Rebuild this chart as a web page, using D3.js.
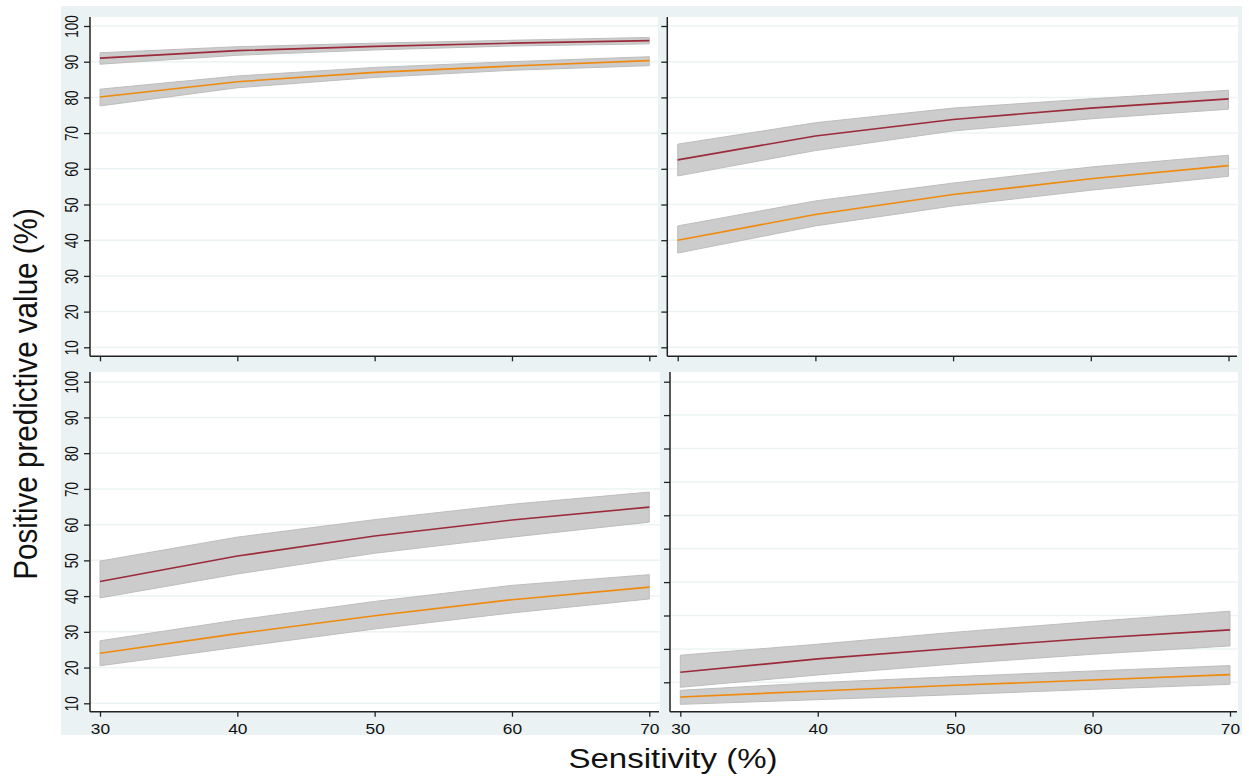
<!DOCTYPE html>
<html>
<head>
<meta charset="utf-8">
<script src="https://cdn.jsdelivr.net/npm/d3@7"></script>
<style>
  body { margin: 0; background: #fff; }
  text { font-family: Arial, "Liberation Sans", sans-serif; fill: #111; }
</style>
</head>
<body>
<svg id="chart" width="1249" height="778"></svg>
<script>
// sensitivity values on the x axis
var sensitivity = [30, 40, 50, 60, 70];
var xTicks = [30, 40, 50, 60, 70];
var yTicks = [10, 20, 30, 40, 50, 60, 70, 80, 90, 100];

// panel A (top left)
var redA   = [91.0, 93.1, 94.3, 95.2, 95.9];
var redALo = [89.3, 91.8, 93.3, 94.4, 95.0];
var redAHi = [92.5, 94.2, 95.2, 96.0, 96.8];
var orA    = [80.1, 84.4, 87.0, 88.8, 90.3];
var orALo  = [77.6, 82.7, 85.6, 87.6, 88.9];
var orAHi  = [82.3, 86.0, 88.4, 90.0, 91.4];

// panel B (top right)
var redB   = [62.5, 69.2, 73.8, 77.0, 79.6];
var redBLo = [58.0, 65.1, 70.6, 74.0, 76.7];
var redBHi = [66.9, 72.9, 77.0, 79.6, 82.0];
var orB    = [40.0, 47.2, 52.8, 57.2, 60.9];
var orBLo  = [36.4, 44.0, 49.6, 54.0, 57.9];
var orBHi  = [44.0, 51.0, 56.0, 60.5, 63.8];

// panel C (bottom left)
var redC   = [44.1, 51.2, 56.8, 61.3, 64.9];
var redCLo = [39.5, 46.2, 52.0, 56.5, 60.7];
var redCHi = [49.8, 56.5, 61.4, 65.7, 69.1];
var orC    = [24.0, 29.5, 34.5, 39.0, 42.5];
var orCLo  = [20.5, 25.7, 30.8, 35.3, 39.2];
var orCHi  = [27.5, 33.3, 38.5, 43.0, 46.0];

// panel D (bottom right)
var redD   = [13.0, 17.0, 20.2, 23.2, 25.7];
var redDLo = [8.5, 12.2, 15.5, 18.4, 20.9];
var redDHi = [18.1, 21.4, 25.0, 28.2, 31.3];
var orD    = [5.6, 7.4, 9.1, 10.7, 12.3];
var orDLo  = [3.4, 4.8, 6.3, 7.9, 9.4];
var orDHi  = [7.6, 9.9, 11.7, 13.4, 15.0];

// colours
var redColor = "#9b2a3a", orangeColor = "#f08a0c", bandFill = "#cccccc", bandStroke = "#bdbdbd";
var bgColor = "#eaf2f3", gridColor = "#edf3f4", axisColor = "#222";

// layout of the four panels (plot box, x range, y range)
var panels = [
  { box: [90, 17, 658, 356.3],   xr: [100, 649.3],   yr: [347.3, 26],    yLabels: true,  xLabels: false,
    red: [redA, redALo, redAHi], or: [orA, orALo, orAHi] },
  { box: [667.3, 17, 1238, 356.3], xr: [677.7, 1228.5], yr: [347.3, 26],  yLabels: false, xLabels: false,
    red: [redB, redBLo, redBHi], or: [orB, orBLo, orBHi] },
  { box: [90, 372, 660, 711.7],  xr: [100, 649.3],   yr: [703.3, 381.7], yLabels: true,  xLabels: true,
    red: [redC, redCLo, redCHi], or: [orC, orCLo, orCHi] },
  { box: [670, 372, 1238, 711.7], xr: [680.3, 1230],  yr: [682.3, 381.7], yLabels: false, xLabels: true,
    red: [redD, redDLo, redDHi], or: [orD, orDLo, orDHi] }
];

var svg = d3.select("#chart");

// outer graph region
svg.append("rect").attr("x", 61).attr("y", 6).attr("width", 1181).attr("height", 729).attr("fill", bgColor);

panels.forEach(function(p) {
  var x = d3.scaleLinear().domain([30, 70]).range(p.xr);
  var y = d3.scaleLinear().domain([10, 100]).range(p.yr);
  var b = p.box;
  var g = svg.append("g");

  // white plot area
  g.append("rect").attr("x", b[0]).attr("y", b[1]).attr("width", b[2] - b[0]).attr("height", b[3] - b[1]).attr("fill", "#fff");

  // gridlines
  g.selectAll(".grid").data(yTicks).join("line")
    .attr("x1", b[0]).attr("x2", b[2])
    .attr("y1", function(d) { return y(d); }).attr("y2", function(d) { return y(d); })
    .attr("stroke", gridColor).attr("stroke-width", 1.5);

  // confidence bands then lines
  [p.red, p.or].forEach(function(s) {
    var rows = sensitivity.map(function(v, k) { return { s: v, lo: s[1][k], hi: s[2][k] }; });
    var area = d3.area().x(function(d) { return x(d.s); }).y0(function(d) { return y(d.lo); }).y1(function(d) { return y(d.hi); });
    g.append("path").datum(rows).attr("d", area)
      .attr("fill", bandFill).attr("stroke", bandStroke).attr("stroke-width", 1);
  });
  [p.red, p.or].forEach(function(s, i) {
    var rows = sensitivity.map(function(v, k) { return { s: v, m: s[0][k] }; });
    var line = d3.line().x(function(d) { return x(d.s); }).y(function(d) { return y(d.m); });
    g.append("path").datum(rows).attr("d", line)
      .attr("fill", "none").attr("stroke", i === 0 ? redColor : orangeColor).attr("stroke-width", 1.6);
  });

  // y axis
  var yAxis = d3.axisLeft(y).tickValues(yTicks).tickSize(6).tickFormat(p.yLabels ? d3.format("d") : "");
  var ya = g.append("g").attr("transform", "translate(" + b[0] + ",0)").call(yAxis);
  ya.select(".domain").remove();
  ya.append("line").attr("x1", 0).attr("x2", 0).attr("y1", b[1]).attr("y2", b[3]).attr("stroke", axisColor).attr("stroke-width", 1.5);
  ya.selectAll(".tick line").attr("stroke", axisColor).attr("stroke-width", 1.3);
  ya.selectAll(".tick text")
    .attr("x", null).attr("dy", null)
    .attr("text-anchor", "middle")
    .style("font-size", "13.5px").style("font-family", "Arial, 'Liberation Sans', sans-serif").attr("fill", "#111")
    .attr("transform", "translate(-12.5,0) scale(1.3,1) rotate(-90)");

  // x axis
  var xAxis = d3.axisBottom(x).tickValues(xTicks).tickSize(5).tickFormat(p.xLabels ? d3.format("d") : "");
  var xa = g.append("g").attr("transform", "translate(0," + b[3] + ")").call(xAxis);
  xa.select(".domain").remove();
  xa.append("line").attr("x1", b[0]).attr("x2", b[2] - 1).attr("y1", 0).attr("y2", 0).attr("stroke", axisColor).attr("stroke-width", 1.5);
  xa.selectAll(".tick line").attr("stroke", axisColor).attr("stroke-width", 1.3);
  xa.selectAll(".tick text")
    .attr("y", null).attr("dy", null)
    .style("font-size", "14px").style("font-family", "Arial, 'Liberation Sans', sans-serif").attr("fill", "#111")
    .attr("transform", "translate(0,22.3) scale(1.24,1)");
});

// axis titles
svg.append("text")
  .attr("transform", "translate(673,768) scale(1.18,1)")
  .attr("text-anchor", "middle")
  .style("font-size", "28px")
  .text("Sensitivity (%)");

svg.append("text")
  .attr("transform", "translate(37,394) scale(1.15,1) rotate(-90)")
  .attr("text-anchor", "middle")
  .style("font-size", "29.6px")
  .text("Positive predictive value (%)");
</script>
</body>
</html>
